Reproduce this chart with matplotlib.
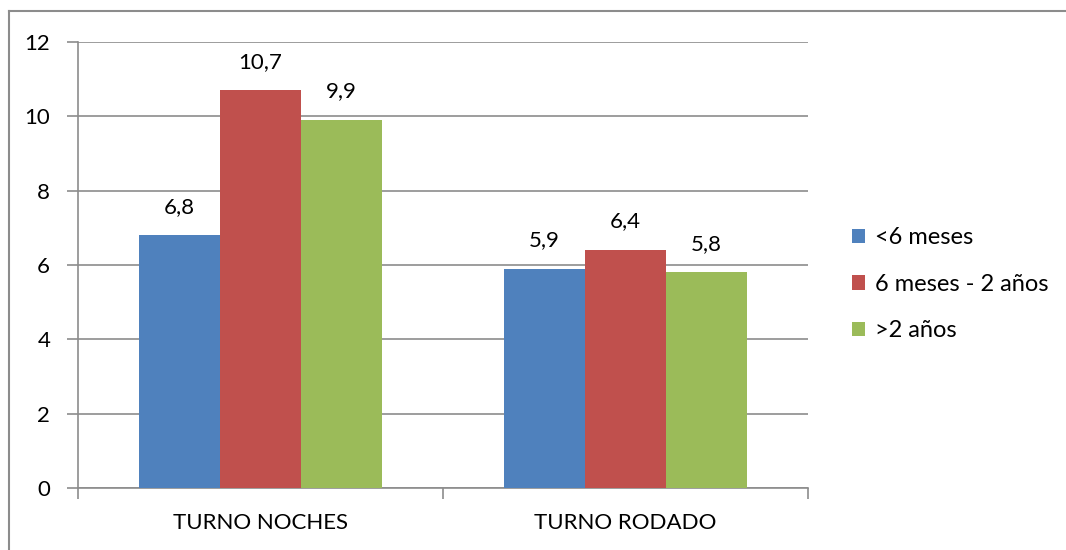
import matplotlib
matplotlib.use("Agg")
import matplotlib.pyplot as plt
import numpy as np
from matplotlib.lines import Line2D

categories = ["TURNO NOCHES", "TURNO RODADO"]
series_names = ["<6 meses", "6 meses - 2 años", ">2 años"]
s_lt6 = [6.8, 5.9]
s_6to2 = [10.7, 6.4]
s_gt2 = [9.9, 5.8]
yticks = [0, 2, 4, 6, 8, 10, 12]

colors = ["#4F81BD", "#C0504D", "#9BBB59"]
plt.rcParams['font.family'] = ['Lato', 'DejaVu Sans']

W, H = 1066, 550
fig = plt.figure(figsize=(W/100, H/100), dpi=100)
ax = fig.add_axes([78/W, 1-488/H, (808-78)/W, (488-42)/H])

x = np.arange(len(categories))
bw = 0.222
for i, (vals, c, name) in enumerate(zip([s_lt6, s_6to2, s_gt2], colors, series_names)):
    pos = x + (i-1)*bw
    ax.bar(pos, vals, width=bw, color=c, label=name, zorder=3)
    for xi, v in zip(pos, vals):
        ax.text(xi, v + 0.5, f"{v:.1f}".replace(".", ","), ha="center", va="bottom",
                fontsize=16, color="black", zorder=4)

ax.set_xlim(-0.5, 1.5)
ax.set_ylim(0, 12)
ax.set_yticks(yticks)
ax.set_yticklabels([str(t) for t in yticks], fontsize=16)
ax.yaxis.grid(True, color="#8C8C8C", linewidth=1.2, zorder=0)
ax.set_axisbelow(True)
ax.set_xticks([-0.5, 0.5, 1.5])
ax.set_xticklabels([])
ax.set_xticks(x, minor=True)
ax.set_xticklabels(categories, minor=True, fontsize=16)
ax.tick_params(axis="x", which="minor", length=0, pad=18)
ax.tick_params(axis="x", which="major", length=8, color="#8C8C8C", width=1.2)
ax.tick_params(axis="y", length=8, color="#8C8C8C", width=1.2, pad=12)
for s in ["top", "right"]:
    ax.spines[s].set_visible(False)
for s in ["left", "bottom"]:
    ax.spines[s].set_color("#8C8C8C")
    ax.spines[s].set_linewidth(1.2)

fig.legend(loc="upper left", bbox_to_anchor=(843/W, 1-218/H), frameon=False,
           fontsize=17, handlelength=0.55, handleheight=0.55, handletextpad=0.4,
           labelspacing=1.08, borderaxespad=0)

# outer frame (top and left edges visible)
fig.add_artist(Line2D([9/W, 9/W], [0, 1-11/H], transform=fig.transFigure,
                      color="#8C8C8C", linewidth=1.5))
fig.add_artist(Line2D([9/W, 1], [1-11/H, 1-11/H], transform=fig.transFigure,
                      color="#8C8C8C", linewidth=1.5))
fig.savefig("out.png", dpi=100)
